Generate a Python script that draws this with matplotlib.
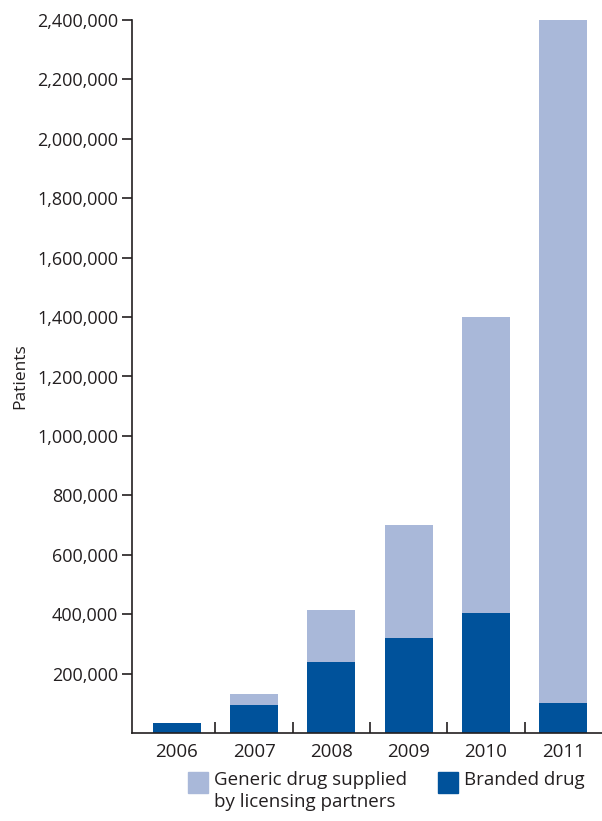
import numpy as np
from matplotlib import pyplot as plt
from matplotlib.patches import Rectangle
from matplotlib.ticker import FuncFormatter

# colors
GENERIC = "#a9b8d9"
BRANDED = "#00529b"
TEXT = "#231f20"

years = ["2006", "2007", "2008", "2009", "2010", "2011"]
branded = [35000, 95000, 240000, 320000, 405000, 100000]
totals = [35000, 130000, 415000, 700000, 1400000, 2400000]
generic = [t - b for t, b in zip(totals, branded)]

plt.rcParams['font.family'] = ['Open Sans', 'DejaVu Sans']

W, H = 602, 821
fig = plt.figure(figsize=(W / 100, H / 100), dpi=100)
ax = fig.add_axes([132 / W, 88 / H, 1 - 132 / W, (733 - 20) / H])

x = np.arange(len(years))
bar_width = 0.62
ax.bar(x, branded, width=bar_width, color=BRANDED, zorder=2)
ax.bar(x, generic, width=bar_width, bottom=branded, color=GENERIC, zorder=2)

ax.set_xlim(-0.58, 5.5)
ax.set_ylim(0, 2400000)

yticks = np.arange(200000, 2400001, 200000)
ax.set_yticks(yticks)
ax.yaxis.set_major_formatter(FuncFormatter(lambda v, p: f"{int(v):,}"))
ax.tick_params(axis='y', direction='out', length=7, width=1.2, colors=TEXT,
               labelsize=13, pad=3)

# category labels centered, tick marks between categories
ax.set_xticks(x)
ax.set_xticklabels(years)
ax.tick_params(axis='x', which='major', length=0, labelsize=13.5, colors=TEXT, pad=7)
ax.set_xticks(np.arange(0.5, 5.0, 1.0), minor=True)
ax.tick_params(axis='x', which='minor', direction='in', length=8, width=1.2, color=TEXT)

ax.set_ylabel('Patients', fontsize=12.5, color=TEXT, labelpad=6)

for side in ['top', 'right']:
    ax.spines[side].set_visible(False)
for side in ['left', 'bottom']:
    ax.spines[side].set_color(TEXT)
    ax.spines[side].set_linewidth(1.2)

# legend below the chart, square swatch next to first text line
legend_items = [(188, GENERIC, 'Generic drug supplied\nby licensing partners'),
                (438, BRANDED, 'Branded drug')]
for px, col, lab in legend_items:
    fig.add_artist(Rectangle((px / W, 1 - 793 / H), 20 / W, 21 / H,
                             transform=fig.transFigure, color=col))
    fig.text((px + 26) / W, 1 - 771 / H, lab, fontsize=13.5, color=TEXT,
             va='top', ha='left', linespacing=1.3)

fig.savefig("out.png", dpi=100)
